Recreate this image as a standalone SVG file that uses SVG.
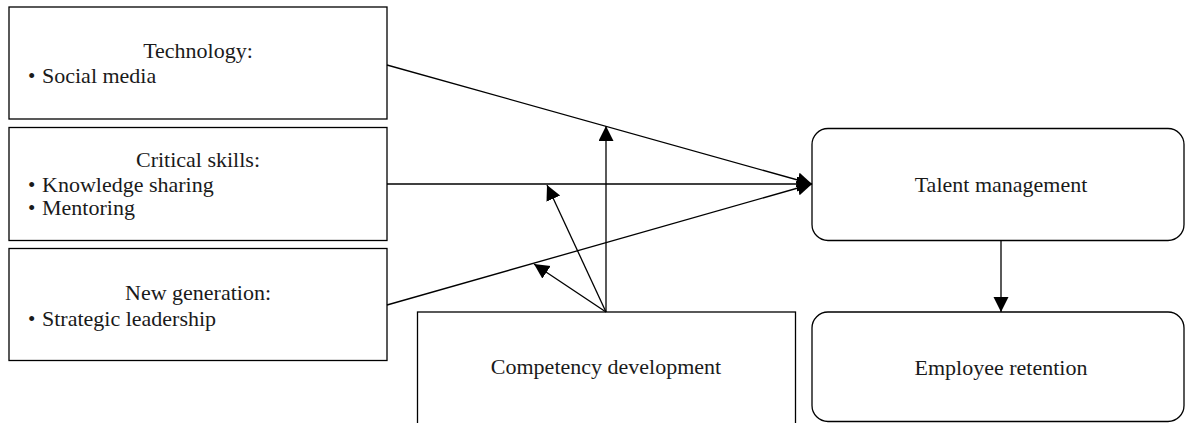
<svg xmlns="http://www.w3.org/2000/svg" width="1186" height="423" viewBox="0 0 1186 423">
<style>
.box{fill:#fff;stroke:#000;stroke-width:1.3}
.t{font-family:"Liberation Serif","Times New Roman",serif;font-size:22px;fill:#1a1a1a}
.c{text-anchor:middle}
.b{font-size:21px}
.ln{stroke:#000;stroke-width:1.3;fill:none;marker-end:url(#ah)}
</style>
<defs>
<marker id="ah" markerUnits="userSpaceOnUse" markerWidth="16" markerHeight="16" refX="15" refY="7.5" orient="auto">
<path d="M0,0 L15,7.5 L0,15 z" fill="#000"/>
</marker>
</defs>
<rect width="1186" height="423" fill="#fff"/>
<g id="technology">
<rect class="box" x="9" y="7" width="378" height="112"/>
<text class="t c" x="198" y="58">Technology:</text>
<text class="t b" x="28" y="83">•</text><text class="t" x="42" y="83">Social media</text>
</g>
<g id="critical-skills">
<rect class="box" x="9" y="127.5" width="378" height="113"/>
<text class="t c" x="198" y="167">Critical skills:</text>
<text class="t b" x="28" y="192">•</text><text class="t" x="42" y="192">Knowledge sharing</text>
<text class="t b" x="28" y="215">•</text><text class="t" x="42" y="215">Mentoring</text>
</g>
<g id="new-generation">
<rect class="box" x="9" y="248.5" width="378" height="112"/>
<text class="t c" x="198" y="300">New generation:</text>
<text class="t b" x="28" y="326">•</text><text class="t" x="42" y="326">Strategic leadership</text>
</g>
<g id="talent-management">
<rect class="box" x="812" y="128.5" width="372" height="112" rx="16" ry="16"/>
<text class="t c" x="1001" y="192">Talent management</text>
</g>
<g id="employee-retention">
<rect class="box" x="812" y="312" width="372" height="109.5" rx="16" ry="16"/>
<text class="t c" x="1001" y="375">Employee retention</text>
</g>
<g id="competency-development">
<rect class="box" x="417.5" y="312" width="378" height="130"/>
<text class="t c" x="606" y="374">Competency development</text>
</g>
<g id="connectors">
<line class="ln" x1="387" y1="65" x2="812" y2="184"/>
<line class="ln" x1="387" y1="184" x2="812" y2="184"/>
<line class="ln" x1="387" y1="305" x2="812" y2="184"/>
<line class="ln" x1="1001" y1="240.5" x2="1001" y2="312"/>
<line class="ln" x1="606" y1="312" x2="606" y2="126"/>
<line class="ln" x1="606" y1="312" x2="547" y2="185"/>
<line class="ln" x1="606" y1="312" x2="534" y2="264"/>
</g>
</svg>
